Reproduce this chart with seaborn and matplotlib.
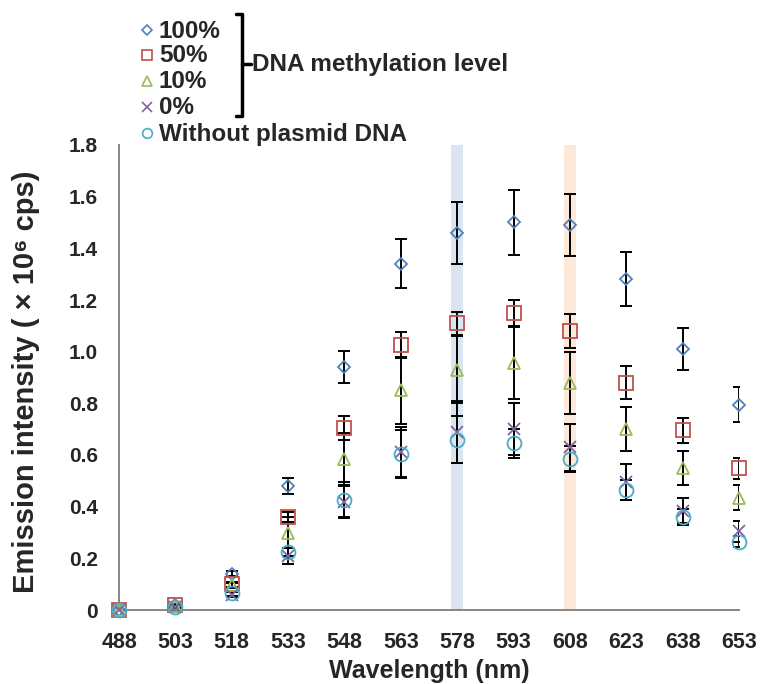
import numpy as np
import pandas as pd
import matplotlib
matplotlib.use("Agg")
import matplotlib.pyplot as plt
import seaborn as sns
from matplotlib.lines import Line2D

# wavelengths (nm)
wavelengths = [488, 503, 518, 533, 548, 563, 578, 593, 608, 623, 638, 653]

# emission intensity (x10^6 cps) and error bars
meth_100 = [0.0, 0.02, 0.14, 0.48, 0.94, 1.34, 1.46, 1.50, 1.49, 1.28, 1.01, 0.795]
err_100 = [0.0, 0.005, 0.01, 0.03, 0.063, 0.095, 0.12, 0.125, 0.12, 0.105, 0.08, 0.067]
meth_50 = [0.0, 0.02, 0.10, 0.36, 0.705, 1.025, 1.11, 1.15, 1.08, 0.88, 0.695, 0.548]
err_50 = [0.0, 0.005, 0.01, 0.02, 0.047, 0.05, 0.045, 0.05, 0.065, 0.065, 0.05, 0.04]
meth_10 = [0.0, 0.015, 0.095, 0.30, 0.585, 0.85, 0.93, 0.955, 0.88, 0.70, 0.55, 0.435]
err_10 = [0.0, 0.005, 0.01, 0.06, 0.10, 0.13, 0.13, 0.14, 0.12, 0.085, 0.065, 0.047]
meth_0 = [0.0, 0.01, 0.06, 0.21, 0.42, 0.61, 0.69, 0.70, 0.63, 0.495, 0.385, 0.305]
err_0 = [0.0, 0.005, 0.01, 0.03, 0.06, 0.10, 0.12, 0.10, 0.09, 0.07, 0.05, 0.04]
no_dna = [0.0, 0.01, 0.065, 0.225, 0.425, 0.605, 0.66, 0.645, 0.585, 0.465, 0.36, 0.265]
err_no_dna = [0.0, 0.005, 0.01, 0.015, 0.07, 0.09, 0.09, 0.055, 0.05, 0.04, 0.03, 0.02]

series_labels = ["100%", "50%", "10%", "0%", "Without plasmid DNA"]
y_ticks = [0, 0.2, 0.4, 0.6, 0.8, 1.0, 1.2, 1.4, 1.6, 1.8]
y_tick_labels = ["0", "0.2", "0.4", "0.6", "0.8", "1.0", "1.2", "1.4", "1.6", "1.8"]
highlight_nm = [578, 608]

values = [meth_100, meth_50, meth_10, meth_0, no_dna]
errors = [err_100, err_50, err_10, err_0, err_no_dna]
markers = ["D", "s", "^", "x", "o"]
msizes = [6, 10, 9, 8, 10]
colors = ["#4F81BD", "#C0504D", "#9BBB59", "#8064A2", "#4BACC6"]
band_colors = ["#DBE5F1", "#FDE9D9"]

rows = []
for lab, v, e in zip(series_labels, values, errors):
    for w, y, err in zip(wavelengths, v, e):
        rows.append({"Wavelength": w, "Intensity": y, "Error": err, "Series": lab})
df = pd.DataFrame(rows)

sns.set_style("white")
plt.rcParams["font.family"] = ["Liberation Sans", "DejaVu Sans"]
plt.rcParams["font.weight"] = "bold"

W, H = 763, 684
fig = plt.figure(figsize=(W / 100, H / 100), dpi=100)
ax = fig.add_axes([119 / W, 1 - 610 / H, (739 - 119) / W, (610 - 145) / H])

# highlighted wavelengths
for nm, c in zip(highlight_nm, band_colors):
    ax.axvspan(nm - 1.6, nm + 1.6, color=c, lw=0, zorder=0)

for lab, m, ms, c in zip(series_labels, markers, msizes, colors):
    d = df[df["Series"] == lab]
    ax.errorbar(d["Wavelength"], d["Intensity"], yerr=d["Error"], fmt="none",
                ecolor="black", elinewidth=1.4, capsize=4, capthick=1.4, zorder=2)
    sns.lineplot(data=d, x="Wavelength", y="Intensity", ax=ax, marker=m, linestyle="",
                 color=c, mfc="none", mec=c, mew=1.3, ms=ms, clip_on=False, zorder=3,
                 legend=False)

ax.set_xlim(488, 653)
ax.set_ylim(0, 1.8)
ax.set_xticks(wavelengths)
ax.set_xticklabels([str(w) for w in wavelengths])
ax.set_yticks(y_ticks)
ax.set_yticklabels(y_tick_labels)
for s in ["top", "right"]:
    ax.spines[s].set_visible(False)
for s in ["left", "bottom"]:
    ax.spines[s].set_color("#868686")
    ax.spines[s].set_linewidth(1.4)
ax.tick_params(axis="both", direction="out", length=6, width=1.3, color="#868686")
ax.tick_params(axis="x", labelsize=15.5, pad=10)
ax.tick_params(axis="y", labelsize=15, pad=9)
for t in ax.get_xticklabels() + ax.get_yticklabels():
    t.set_fontweight("bold")
ax.set_xlabel("Wavelength (nm)", fontsize=18, fontweight="bold", va="center")
ax.xaxis.set_label_coords(0.5, (610 - 671) / 465)
ax.set_ylabel("Emission intensity ( × 10⁶ cps)", fontsize=21, fontweight="bold", va="center")
ax.yaxis.set_label_coords((26 - 119) / 620, 0.49)

# legend drawn by hand, with the bracket
def fx(x):
    return x / W

def fy(y):
    return 1 - y / H

row_y = [31, 56, 82, 108, 134]
for lab, m, c, yy in zip(series_labels, markers, colors, row_y):
    fig.add_artist(Line2D([fx(147)], [fy(yy - 1)], transform=fig.transFigure, marker=m,
                          linestyle="", mfc="none", mec=c, mew=1.2,
                          ms=5 if m == "D" else 7))
    fig.text(fx(159), fy(yy), lab, fontsize=17.5, fontweight="bold", va="center", ha="left")

bx = 242
fig.add_artist(Line2D([fx(236), fx(bx), fx(bx), fx(236)], [fy(14), fy(14), fy(116), fy(116)],
                      transform=fig.transFigure, color="black", lw=2.5))
fig.add_artist(Line2D([fx(bx), fx(251)], [fy(64), fy(64)], transform=fig.transFigure,
                      color="black", lw=2.5))
fig.text(fx(252), fy(65), "DNA methylation level", fontsize=17.5, fontweight="bold",
         va="center", ha="left")

fig.savefig("out.png", dpi=100)
